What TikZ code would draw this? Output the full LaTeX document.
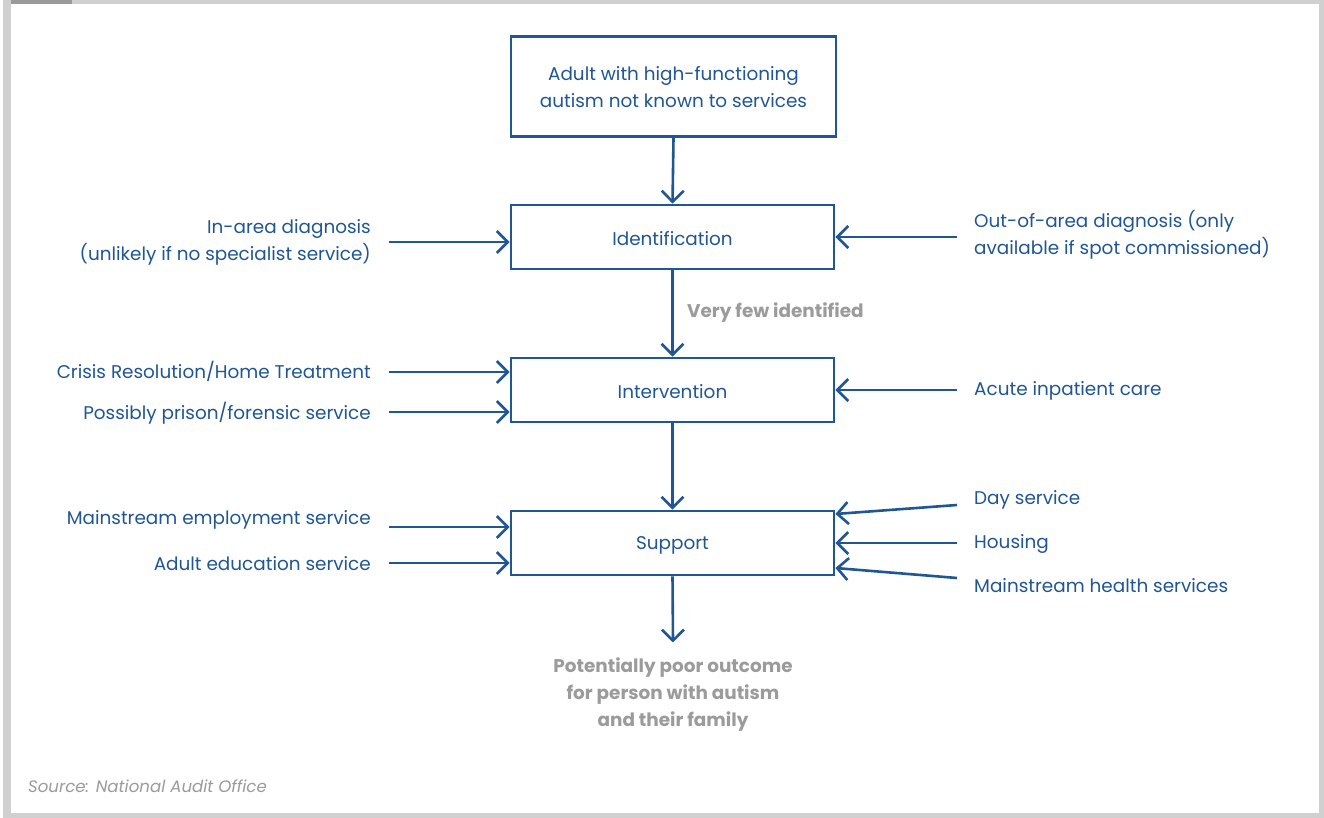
\documentclass[tikz,border=0pt]{standalone}
\usepackage{fontspec}
\setmainfont{Poppins}
\usetikzlibrary{arrows.meta}
\definecolor{naoblue}{RGB}{32,86,148}
\definecolor{notegray}{RGB}{155,155,155}
\definecolor{framegray}{RGB}{208,208,208}
\definecolor{tabgray}{RGB}{153,153,153}
\newcommand{\mainfnt}{\fontsize{18.4}{27}\selectfont}
\newcommand{\notefnt}{\fontsize{18.4}{27}\selectfont\bfseries}
\newcommand{\lowerit}[1]{\raisebox{-2pt}[\height][\depth]{#1}}
\begin{document}
\begin{tikzpicture}[x=1pt,y=-1pt,
  box/.style={draw=naoblue,line width=2.8pt,minimum width=323pt,minimum height=64pt,inner sep=0pt,text=naoblue,font=\mainfnt,align=center},
  lbl/.style={text=naoblue,font=\mainfnt,inner sep=0pt,yshift=-2pt},
  conn/.style={draw=naoblue,line width=2.6pt,-{Straight Barb[length=11pt,width=22pt]}},
  note/.style={text=notegray,font=\notefnt,inner sep=0pt,align=center,yshift=-2pt}]
\useasboundingbox (0,0) rectangle (1324,818);
\fill[framegray] (3,0) rectangle (1324,818);
\fill[white] (11,4) rectangle (1319,813);
\fill[tabgray] (11,0) rectangle (72,4);

% main boxes
\node[box,minimum width=325pt,minimum height=100pt] (adult) at (673.5,86.5) {\lowerit{\begin{tabular}{@{}c@{}}Adult with high-functioning\\autism not known to services\end{tabular}}};
\node[box] (ident) at (672.5,237) {\lowerit{Identification}};
\node[box] (interv) at (672.5,390) {\lowerit{Intervention}};
\node[box] (supp) at (672.5,543) {\lowerit{Support}};

% notes
\node[note,anchor=west] (few) at (687,310.5) {Very few identified};
\node[note] (outcome) at (673,692.5) {Potentially poor outcome\\for person with autism\\and their family};
\node[text=notegray,inner sep=0pt,anchor=west,font=\fontsize{16.6}{20}\selectfont\itshape] (source) at (28,786) {Source: National Audit Office};

% vertical flow
\draw[conn] (adult.south) -- (ident.north);
\draw[conn] (ident.south) -- (interv.north);
\draw[conn] (interv.south) -- (supp.north);
\draw[conn] (supp.south) -- ([yshift=15pt]outcome.north);

% left labels
\node[lbl,anchor=east,align=right] (inarea) at (371,240.5) {In-area diagnosis\\(unlikely if no specialist service)};
\node[lbl,anchor=east] (crisis) at (371,369) {Crisis Resolution/Home Treatment};
\node[lbl,anchor=east] (prison) at (371,411) {Possibly prison/forensic service};
\node[lbl,anchor=east] (employ) at (371,518) {Mainstream employment service};
\node[lbl,anchor=east] (educ) at (371,562) {Adult education service};

\draw[conn] ([xshift=18pt,yshift=0.5pt]inarea.east) -- ([yshift=-5pt]ident.west);
\draw[conn] ([xshift=18pt,yshift=-1pt]crisis.east) -- ([yshift=18pt]interv.west);
\draw[conn] ([xshift=18pt,yshift=1pt]prison.east) -- ([yshift=-22pt]interv.west);
\draw[conn] ([xshift=18pt,yshift=-7pt]employ.east) -- ([yshift=16pt]supp.west);
\draw[conn] ([xshift=18pt,yshift=1pt]educ.east) -- ([yshift=-20pt]supp.west);

% right labels
\node[lbl,anchor=west,align=left] (outarea) at (974,232.5) {Out-of-area diagnosis (only\\available if spot commissioned)};
\node[lbl,anchor=west] (acute) at (974,389) {Acute inpatient care};
\node[lbl,anchor=west] (day) at (974,498) {Day service};
\node[lbl,anchor=west] (housing) at (974,542) {Housing};
\node[lbl,anchor=west] (health) at (974,584) {Mainstream health services};

\draw[conn] ([xshift=-17pt,yshift=-2.5pt]outarea.west) -- ([yshift=0pt]ident.east);
\draw[conn] ([xshift=-17pt,yshift=1pt]acute.west) -- (interv.east);
\draw[conn] ([xshift=-17pt,yshift=-5pt]day.west) -- ([yshift=29pt]supp.east);
\draw[conn] ([xshift=-17pt,yshift=1pt]housing.west) -- (supp.east);
\draw[conn] ([xshift=-17pt,yshift=8pt]health.west) -- ([yshift=-25pt]supp.east);
\end{tikzpicture}
\end{document}
